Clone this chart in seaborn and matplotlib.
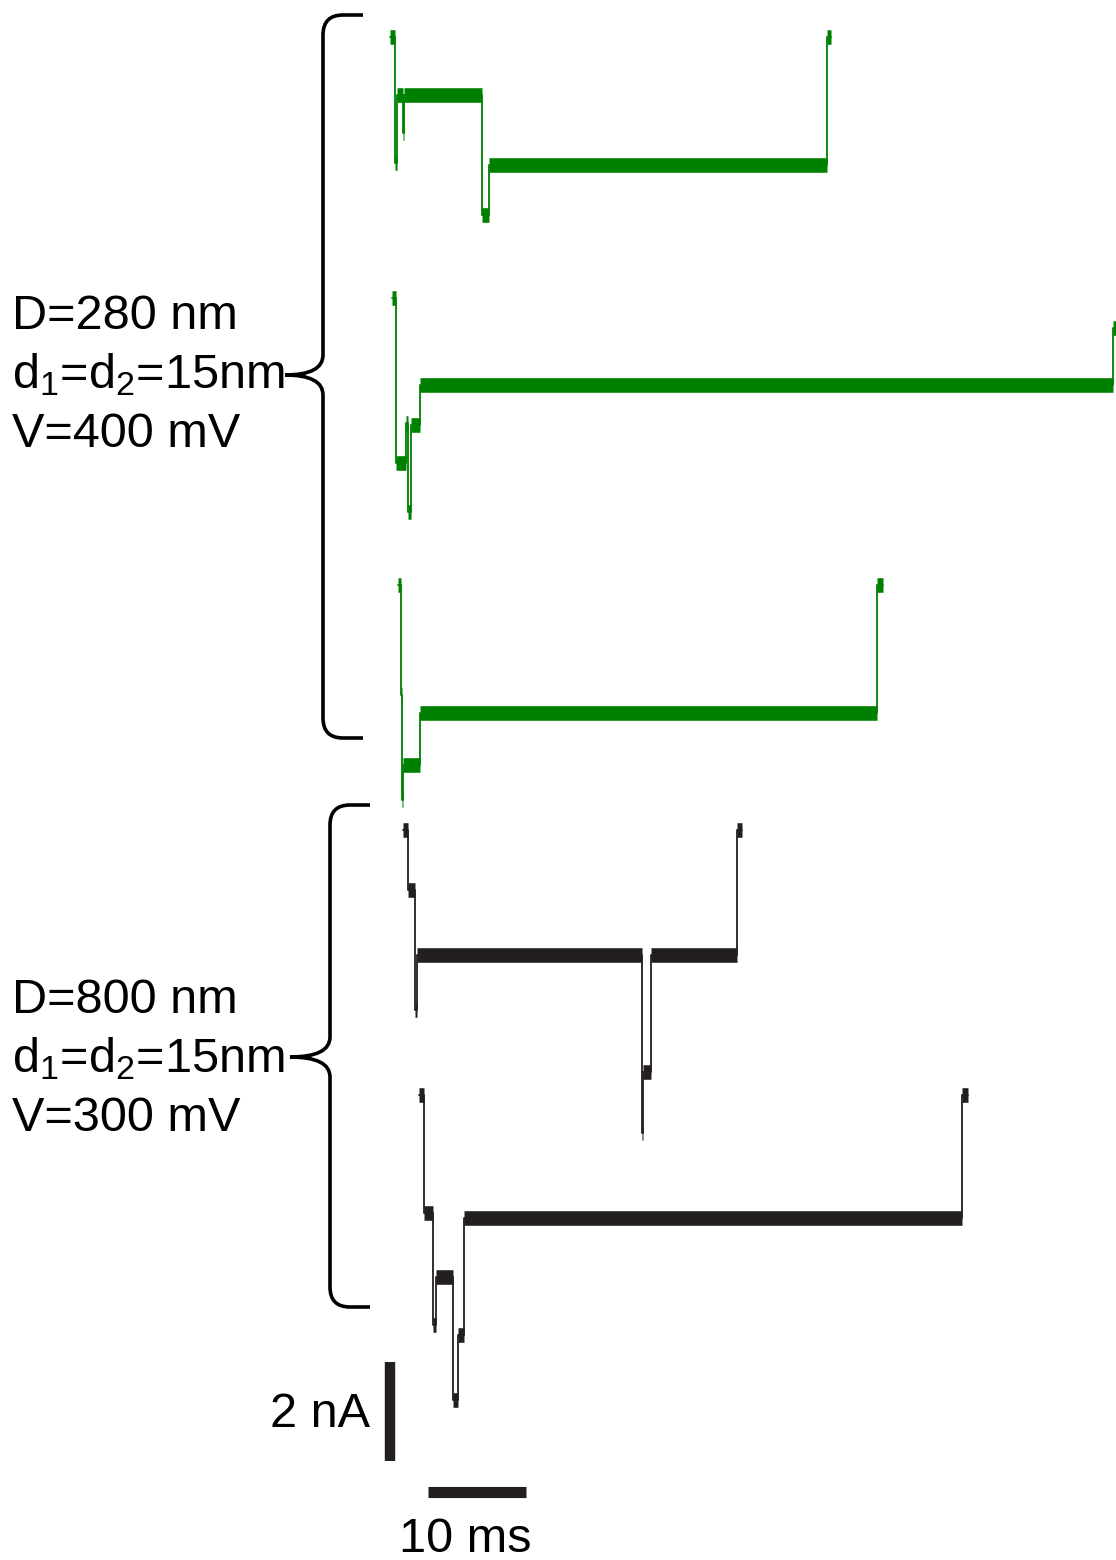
import numpy as np
import pandas as pd
import seaborn as sns
import matplotlib.pyplot as plt
from matplotlib.path import Path
from matplotlib.patches import PathPatch

sns.set_theme(style='white')
plt.rcParams['font.family'] = ['Liberation Sans', 'DejaVu Sans']
plt.rcParams['mathtext.fontset'] = 'custom'
plt.rcParams['mathtext.rm'] = 'Liberation Sans'
plt.rcParams['mathtext.it'] = 'Liberation Sans'
plt.rcParams['text.color'] = 'black'

# Current traces: level change times (ms) and current relative to open pore (nA)
trace1_t = [0.0, 0.5, 0.7, 1.28, 1.38, 9.4, 10.1, 44.6, 45.0]
trace1_i = [0, -2.55, -1.17, -1.94, -1.17, -3.6, -2.59, 0]
trace2_t = [0.2, 0.66, 1.63, 1.84, 2.14, 3.06, 73.78, 74.1]
trace2_i = [0, -3.33, -2.53, -4.32, -2.57, -1.76, -0.6]
trace3_t = [0.82, 1.17, 1.26, 1.31, 3.11, 49.69, 50.31]
trace3_i = [0, -2.22, -4.34, -3.64, -2.59, 0]
trace4_t = [1.33, 1.84, 2.55, 2.76, 25.71, 25.82, 26.63, 35.41, 35.92]
trace4_i = [0, -1.21, -3.64, -2.53, -6.12, -4.89, -2.53, 0]
trace5_t = [2.96, 3.47, 4.39, 4.69, 6.43, 6.94, 7.55, 58.37, 58.98]
trace5_i = [0, -2.38, -4.65, -3.68, -6.16, -4.85, -2.48, 0]

# open pore current of each trace on the stacked display (nA)
baselines = [30.77, 25.49, 19.70, 14.75, 9.39]
groups = ['280', '280', '280', '800', '800']

green = '#008000'
black = '#231f20'
colors = {'280': green, '800': black}

W, H = 1116, 1560
PX_MS = 9.8     # pixels per ms
PX_NA = 49.5    # pixels per nA
X0 = 390

fig = plt.figure(figsize=(W / 100, H / 100), dpi=100)
ax = fig.add_axes([0, 0, 1, 1])
ax.set_xlim(-X0 / PX_MS, (W - X0) / PX_MS)
ax.set_ylim(0, H / PX_NA)
ax.axis('off')

traces = [(trace1_t, trace1_i), (trace2_t, trace2_i), (trace3_t, trace3_i),
          (trace4_t, trace4_i), (trace5_t, trace5_i)]

for (t, cur), base, g in zip(traces, baselines, groups):
    t = np.array(t)
    cur = np.array(cur) + base
    # step line built from the levels
    xs = np.column_stack([t[:-1], t[1:]]).ravel()
    ys = np.repeat(cur, 2)
    df = pd.DataFrame({'t': xs, 'i': ys})
    sns.lineplot(data=df, x='t', y='i', ax=ax, color=colors[g], lw=1.3,
                 sort=False, estimator=None)
    # thick bands for the noisy levels
    ax.hlines(cur, t[:-1], t[1:], color=colors[g], lw=10.5, capstyle='butt')


def fp(x, y):
    return (x / W, 1 - y / H)


def brace(xv, ytop, ybot, ytip, xtip, xhook, r=20):
    pts = [(xhook, ytop), (xv + r, ytop), (xv, ytop), (xv, ytop + r),
           (xv, ytip - r), (xv, ytip), (xtip, ytip),
           (xv, ytip), (xv, ytip + r),
           (xv, ybot - r), (xv, ybot), (xv + r, ybot), (xhook, ybot)]
    codes = [Path.MOVETO, Path.LINETO, Path.CURVE3, Path.CURVE3,
             Path.LINETO, Path.CURVE3, Path.CURVE3,
             Path.CURVE3, Path.CURVE3,
             Path.LINETO, Path.CURVE3, Path.CURVE3, Path.LINETO]
    verts = [fp(x, y) for x, y in pts]
    patch = PathPatch(Path(verts, codes), transform=fig.transFigure,
                      fill=False, lw=2.6, color='black', capstyle='butt')
    fig.patches.append(patch)


brace(323, 15, 738, 375, 285, 363)
brace(330, 805, 1307, 1057, 290, 370)

labels_top = ['D=280 nm', 'd$_1$=d$_2$=15nm', 'V=400 mV']
labels_bot = ['D=800 nm', 'd$_1$=d$_2$=15nm', 'V=300 mV']
for k, s in enumerate(labels_top):
    fig.text(*fp(12, 329 + 59 * k), s, fontsize=35, va='baseline', color='black')
for k, s in enumerate(labels_bot):
    fig.text(*fp(12, 1013 + 59 * k), s, fontsize=35, va='baseline', color='black')

# scale bars (10 ms, 2 nA)
ax.plot([3.9, 13.9], [1.38, 1.38], color=black, lw=8, solid_capstyle='butt')
ax.plot([0, 0], [2.0, 4.0], color=black, lw=7.5, solid_capstyle='butt')
fig.text(*fp(370, 1427), '2 nA', fontsize=35, va='baseline', ha='right', color='black')
fig.text(*fp(465, 1552), '10 ms', fontsize=35, va='baseline', ha='center', color='black')

fig.savefig('out.png', dpi=100)
